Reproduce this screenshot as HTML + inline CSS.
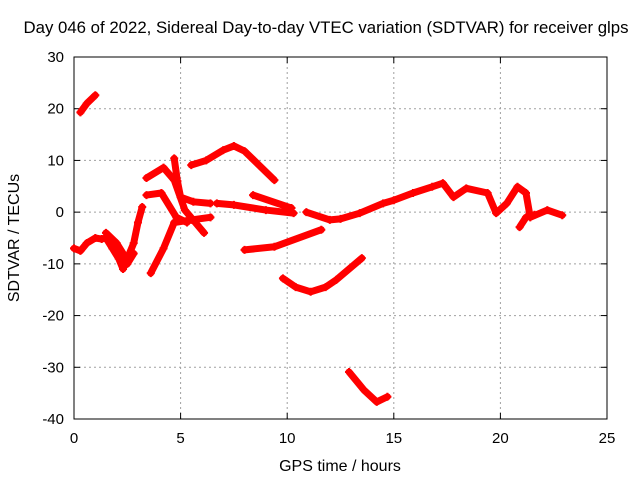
<!DOCTYPE html>
<html><head><meta charset="utf-8"><style>
body{margin:0;background:#fff}
svg text{font-family:"Liberation Sans",sans-serif;font-size:16px;fill:#000}
svg text.tick{font-size:15px}
</style></head><body>
<svg id="chart" width="640" height="480">
<rect width="640" height="480" fill="#fff"/>
<text x="326" y="33" text-anchor="middle" style="font-size:16.8px">Day 046 of 2022, Sidereal Day-to-day VTEC variation (SDTVAR) for receiver glps</text>
<g id="grid"></g>
<g id="axes"></g>
<g id="marks"></g>
<text x="340" y="471" text-anchor="middle">GPS time / hours</text>
<text x="19" y="238" text-anchor="middle" transform="rotate(-90 19 238)">SDTVAR / TECUs</text>
</svg>
<script>
const xTicks=[0,5,10,15,20,25];
const yTicks=[30,20,10,0,-10,-20,-30,-40];
const track1=[[0.3,19.3],[0.6,21],[1.0,22.6]];
const track2=[[0,-7],[0.3,-7.5],[0.6,-6],[1,-5],[1.3,-5.2],[1.5,-5],[1.8,-7],[2.1,-9],[2.3,-11],[2.5,-9],[2.8,-6],[3.0,-2],[3.2,1]];
const track3=[[1.5,-4],[2,-6],[2.3,-8],[2.5,-10],[2.8,-8]];
const track4=[[3.6,-11.8],[4.2,-7],[4.7,-2],[5.5,-1.5],[6.4,-1]];
const track5=[[5.5,9.1],[6.2,10],[7,12],[7.5,12.8],[8,11.8],[8.7,9],[9.4,6.2]];
const track6=[[4.7,10.4],[4.85,6],[5.0,2.9],[5.6,2],[6.4,1.7]];
const track7=[[3.4,6.6],[4.2,8.6],[4.7,6.2],[5.2,0.4],[6.1,-4]];
const track8=[[3.4,3.3],[4.1,3.7],[4.8,-1],[5.3,-2]];
const track9=[[6.7,1.7],[7.5,1.4],[9.0,0.4],[10.3,-0.2]];
const track10=[[8.4,3.3],[10.2,0.8]];
const track11=[[10.9,0],[12.0,-1.5],[12.5,-1.3],[13.4,-0.2],[14.5,1.7],[15,2.3],[15.9,3.7],[16.8,4.9],[17.3,5.6],[17.8,2.9],[18.4,4.6],[19.4,3.7],[19.8,-0.2],[20.3,1.7],[20.8,4.9],[21.2,3.7],[21.4,-1],[22.2,0.4],[22.9,-0.6]];
const track12=[[20.9,-2.9],[21.2,-1],[21.6,-0.5]];
const track13=[[8.0,-7.3],[9.4,-6.7],[11.6,-3.4]];
const track14=[[9.8,-12.8],[10.4,-14.5],[11.1,-15.4],[11.8,-14.5],[12.3,-13.1],[13.5,-8.9]];
const track15=[[12.9,-30.9],[13.6,-34.4],[14.2,-36.7],[14.7,-35.7]];
const tracks=[track1,track2,track3,track4,track5,track6,track7,track8,track9,track10,track11,track12,track13,track14,track15];

const L=74,R=607,T=57,B=419,xMin=0,xMax=25,yMin=-40,yMax=30;
const sx=v=>L+(v-xMin)/(xMax-xMin)*(R-L);
const sy=v=>B-(v-yMin)/(yMax-yMin)*(B-T);
const NS="http://www.w3.org/2000/svg";
function mk(tag,attrs,parent){const e=document.createElementNS(NS,tag);for(const k in attrs)e.setAttribute(k,attrs[k]);parent.appendChild(e);return e;}
const grid=document.getElementById('grid'),axes=document.getElementById('axes'),marks=document.getElementById('marks');
xTicks.forEach(t=>{
  const x=sx(t);
  if(t>xMin&&t<xMax){const g=mk('line',{x1:x,x2:x,y1:T,y2:B,stroke:'#a0a0a0','stroke-dasharray':'2,3'},grid);
  
  }
  mk('line',{x1:x,x2:x,y1:B,y2:B-6,stroke:'#000'},axes);
  mk('line',{x1:x,x2:x,y1:T,y2:T+6,stroke:'#000'},axes);
  const tx=mk('text',{x:x,y:B+24,'text-anchor':'middle',class:'tick'},axes);tx.textContent=t;
  
  
});
yTicks.forEach(t=>{
  const y=sy(t);
  if(t>yMin&&t<yMax){const g=mk('line',{x1:L,x2:R,y1:y,y2:y,stroke:'#a0a0a0','stroke-dasharray':'2,3'},grid);
  
  }
  mk('line',{x1:L,x2:L+6,y1:y,y2:y,stroke:'#000'},axes);
  mk('line',{x1:R,x2:R-6,y1:y,y2:y,stroke:'#000'},axes);
  const tx=mk('text',{x:L-10,y:y+5,'text-anchor':'end',class:'tick'},axes);tx.textContent=t;
  
  
});
mk('rect',{x:L,y:T,width:R-L,height:B-T,fill:'none',stroke:'#000'},axes);
tracks.forEach(tr=>{
  const pl=mk('polyline',{points:tr.map(p=>sx(p[0])+','+sy(p[1])).join(' '),fill:'none',stroke:'#f00','stroke-width':7,'stroke-linejoin':'round','stroke-linecap':'round'},marks);
  
  
  tr.forEach(p=>{
    const x=sx(p[0]),y=sy(p[1]);
    const m=mk('path',{d:`M${x-4},${y}H${x+4}M${x},${y-4}V${y+4}`,stroke:'#f00','stroke-width':2},marks);
    
    
  });
});
</script>
</body></html>
